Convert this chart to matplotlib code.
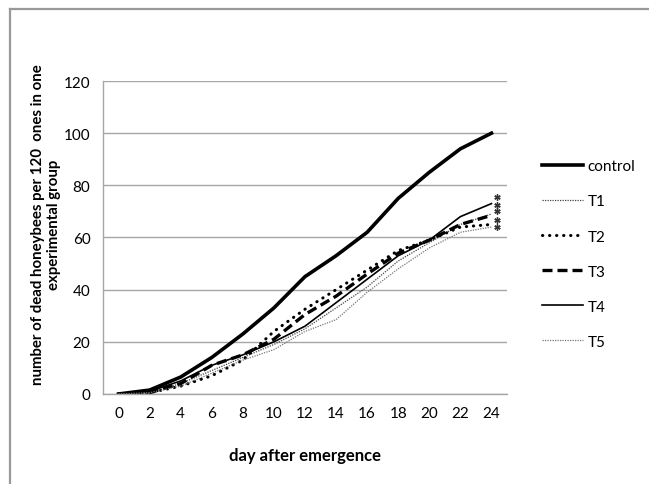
import numpy as np
import matplotlib.pyplot as plt
from matplotlib.lines import Line2D

plt.rcParams['font.family'] = ['Lato', 'DejaVu Sans']

days = [0, 2, 4, 6, 8, 10, 12, 14, 16, 18, 20, 22, 24]

control = [0, 1.5, 6.5, 14, 23, 33, 45, 53, 62, 75, 85, 94, 100]
t1 = [0, 0.5, 4, 9, 14, 19, 25, 33, 41, 51, 58, 65, 69]
t2 = [0, 0.5, 3, 7, 13, 24, 32.5, 40, 47.5, 55, 59, 64, 65]
t3 = [0, 0.5, 4, 11, 15, 21, 30.5, 37.5, 46, 54, 59, 65, 68.5]
t4 = [0, 1, 5, 11, 15, 20, 26, 35, 44, 53, 59, 68, 73]
t5 = [0, 0.5, 3, 8, 13, 17, 24, 28.5, 39, 48, 56, 62, 64]

# asterisks next to the end of the treatment lines
star_x = 24.37
star_y = [75.5, 72.6, 70, 66.6, 64]

fig = plt.figure(figsize=(6.49, 4.85), dpi=100)
ax = fig.add_axes([0.1587, 0.1856, 0.6225, 0.6453])

ax.plot(days, control, color='black', lw=2.6, label='control')
ax.plot(days, t1, color='#444444', lw=0.9, ls=(0, (1, 1)), label='T1')
ax.plot(days, t2, color='black', lw=2.2, ls=(0, (0.1, 2.2)), label='T2',
        dash_capstyle='round')
ax.plot(days, t3, color='black', lw=2.4, ls=(0, (3, 1.5)), label='T3')
ax.plot(days, t4, color='black', lw=1.2, label='T4')
ax.plot(days, t5, color='#777777', lw=0.9, ls=(0, (1, 1)), label='T5')

ax.plot([star_x] * len(star_y), star_y, ls='none', marker=(6, 2, 0), ms=4.5,
        mew=1.0, color='#333333', clip_on=False)

ax.set_xlim(-1, 25)
ax.set_ylim(0, 120)
ax.set_xticks(days)
ax.set_yticks(np.arange(0, 121, 20))
ax.tick_params(length=0, labelsize=11, pad=9)
ax.yaxis.grid(True, color='#a6a6a6', lw=1)
ax.set_axisbelow(True)
for s in ['top', 'right']:
    ax.spines[s].set_visible(False)
for s in ['left', 'bottom']:
    ax.spines[s].set_color('#a6a6a6')
    ax.spines[s].set_linewidth(1)

ax.set_xlabel('day after emergence', fontsize=12, fontweight='bold', labelpad=19)
ax.set_ylabel('number of dead honeybees per 120  ones in one\nexperimental group',
              fontsize=10.8, fontweight='bold', labelpad=0, linespacing=1.25)
ax.yaxis.set_label_coords(-0.103, 0.545)

ax.legend(loc='upper left', bbox_to_anchor=(0.825, 0.682), bbox_transform=fig.transFigure,
          frameon=False, fontsize=11, handlelength=2.7, handletextpad=0.3,
          labelspacing=1.38, borderaxespad=0)

# frame lines on top and left of the picture
fig.add_artist(Line2D([9.5 / 649, 1], [1 - 9.5 / 485] * 2, color='#999999', lw=1.6,
                      transform=fig.transFigure))
fig.add_artist(Line2D([9.5 / 649] * 2, [0, 1 - 9.5 / 485], color='#999999', lw=1.6,
                      transform=fig.transFigure))

fig.savefig('out.png', dpi=100)
